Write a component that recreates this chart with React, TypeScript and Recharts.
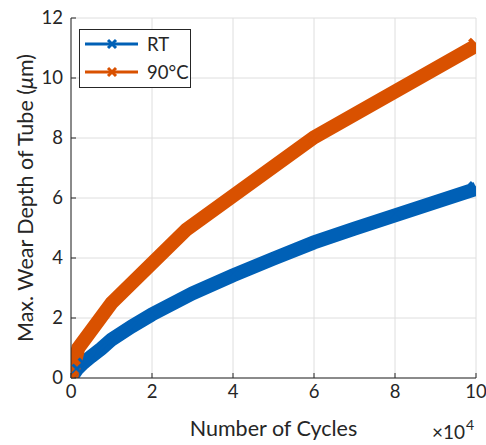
import React from 'react';
import { LineChart, Line, XAxis, YAxis, CartesianGrid, Legend } from 'recharts';

const xTicks = [0, 2, 4, 6, 8, 10];
const yTicks = [0, 2, 4, 6, 8, 10, 12];

const rtCycles = [0, 0.15, 0.3, 0.5, 0.75, 1, 1.5, 2, 3, 4, 5, 6, 7, 8, 9, 10];
const rtDepth = [0, 0.3, 0.5, 0.72, 0.98, 1.28, 1.72, 2.12, 2.82, 3.42, 3.98, 4.52, 4.98, 5.42, 5.86, 6.3];

const hotCycles = [0, 0.18, 1.0, 2.85, 6.0, 10];
const hotDepth = [0, 1.0, 2.5, 4.95, 8.02, 11.08];

const seriesOrder = ['RT', '90°C'];

const rtData = rtCycles.map((x, i) => ({ x, y: rtDepth[i] }));
const hotData = hotCycles.map((x, i) => ({ x, y: hotDepth[i] }));

const BLUE = '#0060B6';
const ORANGE = '#D95100';
const INK = '#262626';
const FONT = 'Lato, "Open Sans", sans-serif';

const makeXMark = (count: number) => (props: any) => {
  const { cx, cy, stroke, index } = props;
  if (cx == null || cy == null) return null;
  const end = index === 0 || index === count - 1;
  const s = end ? 6.5 : 4.5;
  const w = end ? 4 : 3;
  return (
    <g key={`m-${index}`}>
      <line x1={cx - s} y1={cy - s} x2={cx + s} y2={cy + s} stroke={stroke} strokeWidth={w} />
      <line x1={cx - s} y1={cy + s} x2={cx + s} y2={cy - s} stroke={stroke} strokeWidth={w} />
    </g>
  );
};

const RtMark = makeXMark(rtData.length);
const HotMark = makeXMark(hotData.length);

const BottomTick = (props: any) => {
  const { x, y, payload } = props;
  return (
    <g>
      <line x1={x} x2={x} y1={y} y2={y - 5} stroke={INK} strokeWidth={1} />
      <text x={x} y={y + 20} textAnchor="middle" fontSize={18.5} fill={INK} fontFamily={FONT}>
        {payload.value}
      </text>
    </g>
  );
};

const TopTick = (props: any) => {
  const { x, y } = props;
  return <line x1={x} x2={x} y1={y} y2={y + 5} stroke={INK} strokeWidth={1} />;
};

const LeftTick = (props: any) => {
  const { x, y, payload } = props;
  return (
    <g>
      <line x1={x} x2={x + 5} y1={y} y2={y} stroke={INK} strokeWidth={1} />
      <text x={x - 8} y={y + 6} textAnchor="end" fontSize={18.5} fill={INK} fontFamily={FONT}>
        {payload.value}
      </text>
    </g>
  );
};

const RightTick = (props: any) => {
  const { x, y } = props;
  return <line x1={x} x2={x - 5} y1={y} y2={y} stroke={INK} strokeWidth={1} />;
};

const XLabel = (props: any) => {
  const vb = props.viewBox || {};
  const cx = vb.x + vb.width / 2;
  const right = vb.x + vb.width;
  return (
    <g fontFamily={FONT} fill={INK}>
      <text x={cx} y={vb.y + 58} textAnchor="middle" fontSize={21.5}>
        Number of Cycles
      </text>
      <text x={right - 11} y={vb.y + 61} textAnchor="end" fontSize={19}>
        ×10
      </text>
      <text x={right - 10} y={vb.y + 52} textAnchor="start" fontSize={14}>
        4
      </text>
    </g>
  );
};

const YLabel = (props: any) => {
  const vb = props.viewBox || {};
  const cy = vb.y + vb.height / 2;
  const cx = 33;
  return (
    <text
      x={cx}
      y={cy}
      transform={`rotate(-90, ${cx}, ${cy})`}
      textAnchor="middle"
      fontSize={21.5}
      fill={INK}
      fontFamily={FONT}
    >
      Max. Wear Depth of Tube (<tspan fontStyle="italic">μ</tspan>m)
    </text>
  );
};

const LegendBox = (props: any) => {
  const payload = [...(props.payload || [])].sort(
    (a: any, b: any) => seriesOrder.indexOf(a.value) - seriesOrder.indexOf(b.value)
  );
  return (
    <div
      style={{
        border: `1px solid ${INK}`,
        background: '#fff',
        width: 110,
        height: 57,
        boxSizing: 'content-box',
        fontFamily: FONT,
        fontSize: 18.5,
        color: INK,
      }}
    >
      {payload.map((p: any) => (
        <div key={p.value} style={{ display: 'flex', alignItems: 'center', height: 28, paddingLeft: 5 }}>
          <svg width={53} height={14} style={{ display: 'block' }}>
            <line x1={0} x2={53} y1={7} y2={7} stroke={p.color} strokeWidth={3} />
            <line x1={23} y1={3} x2={31} y2={11} stroke={p.color} strokeWidth={3} />
            <line x1={23} y1={11} x2={31} y2={3} stroke={p.color} strokeWidth={3} />
          </svg>
          <span style={{ marginLeft: 9, lineHeight: '28px' }}>{p.value}</span>
        </div>
      ))}
    </div>
  );
};

export default function App() {
  return (
    <div style={{ position: 'absolute', left: 0, top: 0, background: '#fff' }}>
      <LineChart width={486} height={445} margin={{ top: 18, right: 10, bottom: 37, left: 0 }}>
        <CartesianGrid stroke="#DEDEDE" strokeWidth={1} />
        <XAxis
          dataKey="x"
          type="number"
          domain={[0, 10]}
          ticks={xTicks}
          height={30}
          tickSize={0}
          tickMargin={0}
          tickLine={false}
          axisLine={{ stroke: INK, strokeWidth: 1 }}
          tick={<BottomTick />}
          label={<XLabel />}
          allowDataOverflow
        />
        <XAxis
          xAxisId="top"
          orientation="top"
          type="number"
          domain={[0, 10]}
          ticks={xTicks}
          height={0}
          tickSize={0}
          tickMargin={0}
          tickLine={false}
          axisLine={{ stroke: INK, strokeWidth: 1 }}
          tick={<TopTick />}
          allowDataOverflow
        />
        <YAxis
          type="number"
          domain={[0, 12]}
          ticks={yTicks}
          width={71}
          tickSize={0}
          tickMargin={0}
          tickLine={false}
          axisLine={{ stroke: INK, strokeWidth: 1 }}
          tick={<LeftTick />}
          label={<YLabel />}
          allowDataOverflow
        />
        <YAxis
          yAxisId="right"
          orientation="right"
          type="number"
          domain={[0, 12]}
          ticks={yTicks}
          width={0}
          tickSize={0}
          tickMargin={0}
          tickLine={false}
          axisLine={{ stroke: INK, strokeWidth: 1 }}
          tick={<RightTick />}
          allowDataOverflow
        />
        <Legend
          layout="vertical"
          align="center"
          verticalAlign="middle"
          wrapperStyle={{ left: 79, top: 29, width: 'auto' }}
          content={<LegendBox />}
        />
        <Line
          name="RT"
          data={rtData}
          dataKey="y"
          type="linear"
          stroke={BLUE}
          strokeWidth={14}
          dot={RtMark}
          activeDot={false}
          isAnimationActive={false}
        />
        <Line
          name="90°C"
          data={hotData}
          dataKey="y"
          type="linear"
          stroke={ORANGE}
          strokeWidth={14}
          dot={HotMark}
          activeDot={false}
          isAnimationActive={false}
        />
      </LineChart>
    </div>
  );
}
